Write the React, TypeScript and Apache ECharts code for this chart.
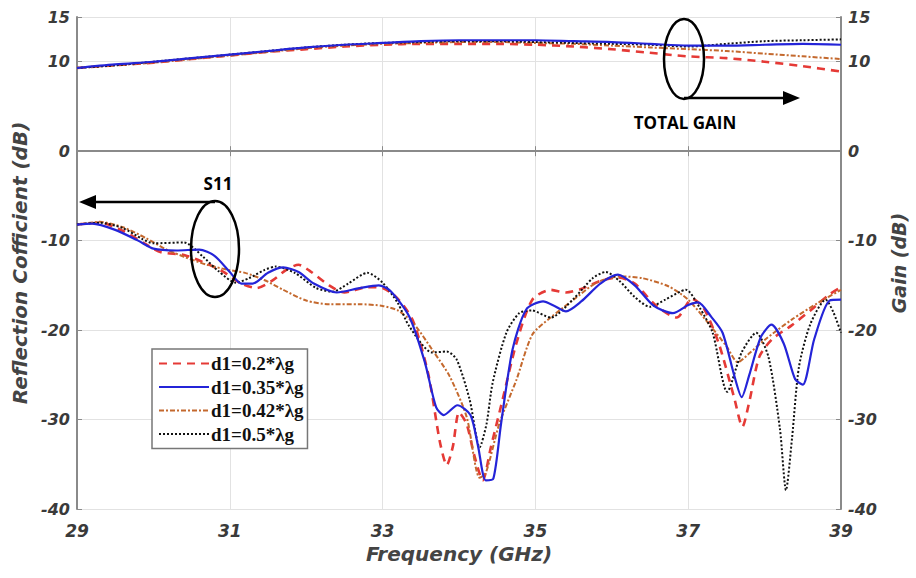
import React, { useEffect, useRef } from "react";
import * as echarts from "echarts";

const seriesNames = ["d1=0.2*λg", "d1=0.35*λg", "d1=0.42*λg", "d1=0.5*λg"];
const xTicks = [29, 31, 33, 35, 37, 39];
const yTicks = [-40, -30, -20, -10, 0, 10, 15];

// Total gain (dB) sampled every 0.5 GHz
const gainFreq = [29, 29.5, 30, 30.5, 31, 31.5, 32, 32.5, 33, 33.5, 34, 34.5, 35, 35.5, 36, 36.5, 37, 37.5, 38, 38.5, 39];
const gainD020 = [9.3, 9.6, 9.9, 10.3, 10.7, 11.1, 11.4, 11.7, 11.9, 12.0, 12.0, 12.0, 11.9, 11.7, 11.4, 11.0, 10.6, 10.4, 10.0, 9.5, 8.9];
const gainD035 = [9.3, 9.7, 10.0, 10.4, 10.8, 11.2, 11.6, 11.9, 12.1, 12.3, 12.4, 12.4, 12.4, 12.3, 12.2, 12.0, 11.8, 11.8, 11.9, 12.0, 11.9];
const gainD042 = [9.3, 9.6, 9.9, 10.3, 10.7, 11.1, 11.5, 11.8, 12.0, 12.1, 12.2, 12.2, 12.1, 12.0, 11.8, 11.6, 11.4, 11.2, 10.9, 10.6, 10.3];
const gainD050 = [9.3, 9.6, 10.0, 10.4, 10.8, 11.2, 11.6, 11.9, 12.1, 12.2, 12.3, 12.3, 12.2, 12.1, 12.0, 11.9, 11.7, 12.0, 12.3, 12.4, 12.5];

// S11 (dB): [frequency GHz, value dB]
const s11D020: [number, number][] = [
  [29, -8.2], [29.3, -8.0], [29.6, -8.9], [29.9, -10.4], [30.1, -11.3], [30.4, -11.6], [30.65, -12.4],
  [30.9, -13.4], [31.15, -14.8], [31.35, -15.3], [31.55, -14.5], [31.75, -13.2], [31.9, -12.7], [32.05, -13.4],
  [32.3, -15.0], [32.5, -15.8], [32.8, -15.2], [33.0, -15.3], [33.2, -16.5], [33.4, -19.0], [33.6, -25.0],
  [33.75, -32.5], [33.84, -35.1], [33.92, -33.0], [34.0, -29.2], [34.1, -30.5], [34.2, -34.0], [34.31, -36.8],
  [34.42, -33.0], [34.57, -27.8], [34.75, -21.5], [34.96, -16.6], [35.2, -15.5], [35.4, -15.8], [35.6, -15.4],
  [35.85, -14.5], [36.08, -14.1], [36.3, -14.8], [36.57, -17.2], [36.85, -18.6], [37.05, -16.5], [37.2, -17.5],
  [37.4, -21.5], [37.6, -27.5], [37.71, -30.8], [37.8, -28.0], [37.93, -23.0], [38.1, -21.0], [38.35, -19.5],
  [38.6, -17.8], [38.85, -16.0], [39, -15.2],
];
const s11D035: [number, number][] = [
  [29, -8.2], [29.2, -8.1], [29.5, -8.8], [29.8, -10.0], [30.0, -10.9], [30.3, -11.1], [30.6, -11.0],
  [30.8, -11.7], [31.0, -13.5], [31.15, -14.8], [31.3, -14.8], [31.5, -13.6], [31.7, -13.0], [31.9, -13.5],
  [32.1, -14.8], [32.4, -15.8], [32.7, -15.3], [32.95, -15.0], [33.1, -15.6], [33.35, -18.5], [33.55, -23.5],
  [33.7, -28.6], [33.8, -29.5], [33.98, -28.4], [34.15, -29.5], [34.25, -33.0], [34.35, -36.8], [34.45, -36.6],
  [34.55, -30.5], [34.7, -22.2], [34.88, -17.7], [35.1, -16.8], [35.25, -17.3], [35.4, -17.9], [35.6, -16.8],
  [35.85, -14.8], [36.08, -13.8], [36.3, -15.0], [36.55, -17.3], [36.8, -18.1], [37.0, -17.2], [37.13, -16.9],
  [37.3, -18.5], [37.45, -20.3], [37.6, -25.0], [37.7, -27.5], [37.8, -25.0], [37.95, -20.8], [38.09, -19.4],
  [38.25, -21.5], [38.4, -25.5], [38.5, -26.1], [38.65, -21.0], [38.85, -16.7], [39, -16.6],
];
const s11D042: [number, number][] = [
  [29, -8.2], [29.3, -7.9], [29.6, -8.5], [29.9, -9.7], [30.15, -10.9], [30.4, -11.8], [30.7, -12.7],
  [31.0, -13.3], [31.2, -13.6], [31.45, -14.4], [31.7, -15.5], [32.0, -16.7], [32.3, -17.1], [32.7, -17.1],
  [33.0, -17.3], [33.2, -17.8], [33.4, -19.2], [33.65, -22.2], [33.88, -25.2], [34.1, -29.7], [34.27, -36.5],
  [34.35, -36.0], [34.53, -30.4], [34.75, -25.6], [34.96, -20.5], [35.2, -18.6], [35.5, -16.6], [35.8, -14.7],
  [36.1, -14.0], [36.4, -14.2], [36.74, -15.1], [37.0, -16.6], [37.26, -19.2], [37.5, -21.8], [37.65, -23.6],
  [37.8, -22.6], [38.0, -21.1], [38.36, -18.8], [38.71, -16.9], [39, -15.5],
];
const s11D050: [number, number][] = [
  [29, -8.2], [29.3, -8.0], [29.6, -8.6], [29.85, -9.8], [30.0, -10.3], [30.4, -10.2], [30.65, -11.8],
  [30.85, -13.4], [31.08, -14.7], [31.25, -14.2], [31.45, -13.3], [31.6, -12.9], [31.85, -13.6], [32.13, -15.3],
  [32.35, -15.7], [32.55, -14.8], [32.8, -13.6], [33.0, -14.7], [33.2, -17.0], [33.35, -19.6], [33.65, -22.5],
  [33.84, -22.4], [33.97, -23.3], [34.14, -27.8], [34.27, -33.1], [34.36, -30.5], [34.44, -25.9], [34.62, -20.3],
  [34.79, -18.1], [34.95, -17.8], [35.2, -18.6], [35.5, -16.5], [35.75, -14.2], [35.92, -13.5], [36.1, -14.5],
  [36.3, -16.3], [36.5, -17.4], [36.7, -16.6], [36.97, -15.5], [37.15, -17.5], [37.32, -20.3], [37.51, -26.9],
  [37.7, -22.5], [37.89, -20.3], [38.05, -23.0], [38.2, -31.0], [38.28, -37.9], [38.36, -32.0], [38.45, -24.1],
  [38.6, -19.3], [38.8, -16.6], [38.9, -18.0], [39, -20.3],
];

const styles = [
  { color: "#e53a36", type: [8, 6] as any, width: 2.6 },
  { color: "#2424d8", type: "solid" as any, width: 2.2 },
  { color: "#c4692e", type: [5, 2, 2, 2] as any, width: 2 },
  { color: "#111111", type: [2, 2] as any, width: 2 },
];

export default function App() {
  const ref = useRef<HTMLDivElement>(null);
  useEffect(() => {
    if (!ref.current) return;
    const chart = echarts.init(ref.current, null, { renderer: "svg" });
    const s11 = [s11D020, s11D035, s11D042, s11D050];
    const gains = [gainD020, gainD035, gainD042, gainD050];
    const labelStyle = {
      fontFamily: "DejaVu Sans, Verdana, sans-serif",
      fontWeight: "bold" as const,
      fontStyle: "italic" as const,
      color: "#3a3a3a",
      fontSize: 16,
    };
    const series: any[] = [];
    s11.forEach((d, i) => {
      series.push({
        name: seriesNames[i],
        type: "line",
        data: d,
        xAxisIndex: 0,
        yAxisIndex: 0,
        symbol: "none",
        smooth: 0.25,
        lineStyle: { ...styles[i] },
        itemStyle: { color: styles[i].color },
        z: i === 1 ? 5 : 3,
      });
    });
    gains.forEach((g, i) => {
      series.push({
        name: seriesNames[i],
        type: "line",
        data: gainFreq.map((f, k) => [f, g[k]]),
        xAxisIndex: 0,
        yAxisIndex: 1,
        symbol: "none",
        smooth: 0.3,
        lineStyle: { ...styles[i] },
        itemStyle: { color: styles[i].color },
        z: i === 1 ? 5 : 3,
      });
    });
    const axisLine = { show: true, lineStyle: { color: "#8a8a8a", width: 2 } };
    const tickStyle = { show: true, inside: true, length: 5, lineStyle: { color: "#8a8a8a", width: 1 } };
    chart.setOption({
      animation: false,
      backgroundColor: "#ffffff",
      grid: { left: 77, right: 74, top: 17, bottom: 69, containLabel: false },
      legend: {
        show: true,
        data: seriesNames,
        orient: "vertical",
        left: 152,
        top: 349,
        itemWidth: 50,
        itemHeight: 14,
        itemGap: 4.5,
        padding: [5, 4, 5, 6],
        backgroundColor: "#ffffff",
        borderColor: "#777777",
        borderWidth: 1.5,
        borderRadius: 0,
        selectedMode: false,
        itemStyle: { opacity: 0 },
        textStyle: {
          fontFamily: "Liberation Serif, Times New Roman, serif",
          fontWeight: "bold",
          fontSize: 19,
          lineHeight: 14,
          color: "#111111",
          padding: [0, 0, 0, -3],
        },
      },
      xAxis: [
        {
          type: "value",
          min: 29,
          max: 39,
          interval: 2,
          name: "Frequency (GHz)",
          nameLocation: "middle",
          nameGap: 33,
          nameTextStyle: { ...labelStyle, fontSize: 20, color: "#444444" },
          axisLine,
          axisTick: tickStyle,
          axisLabel: { ...labelStyle, fontSize: 17, margin: 13, customValues: xTicks },
          splitLine: { show: true, lineStyle: { color: "#e2e2e2", width: 1 } },
        },
        {
          type: "value",
          position: "top",
          min: 29,
          max: 39,
          interval: 2,
          axisLine,
          axisTick: tickStyle,
          axisLabel: { show: false },
          splitLine: { show: false },
        },
      ],
      yAxis: [
        {
          type: "value",
          min: -40,
          max: 15,
          interval: 10,
          position: "left",
          name: "Reflection Cofficient (dB)",
          nameLocation: "middle",
          nameGap: 45,
          nameTextStyle: { ...labelStyle, fontSize: 20, color: "#444444" },
          axisLine,
          axisTick: { ...tickStyle, customValues: yTicks },
          axisLabel: { ...labelStyle, margin: 7, customValues: yTicks },
          splitLine: { show: true, lineStyle: { color: "#e2e2e2", width: 1 } },
        },
        {
          type: "value",
          min: -40,
          max: 15,
          interval: 10,
          position: "right",
          name: "Gain (dB)",
          nameLocation: "middle",
          nameGap: 48,
          nameTextStyle: { ...labelStyle, fontSize: 19, color: "#444444" },
          axisLine,
          axisTick: { ...tickStyle, customValues: yTicks },
          axisLabel: { ...labelStyle, margin: 7, customValues: yTicks },
          splitLine: { show: false },
        },
      ],
      series,
      graphic: [
        { type: "ellipse", shape: { cx: 215, cy: 249, rx: 24, ry: 48 }, style: { fill: "none", stroke: "#000", lineWidth: 2.5 }, z: 100 },
        { type: "line", shape: { x1: 215, y1: 202, x2: 94, y2: 202 }, style: { stroke: "#000", lineWidth: 2.5 }, z: 100 },
        { type: "polygon", shape: { points: [[79, 202], [96, 195], [96, 209]] }, style: { fill: "#000" }, z: 100 },
        {
          type: "text", x: 218, y: 183,
          style: { text: "S11", fill: "#000", font: "bold 17px 'Open Sans', 'Liberation Sans', sans-serif", align: "center", verticalAlign: "middle" },
          z: 100,
        },
        { type: "ellipse", shape: { cx: 684, cy: 59, rx: 20, ry: 40 }, style: { fill: "none", stroke: "#000", lineWidth: 2.5 }, z: 100 },
        { type: "line", shape: { x1: 684, y1: 98, x2: 785, y2: 98 }, style: { stroke: "#000", lineWidth: 2.5 }, z: 100 },
        { type: "polygon", shape: { points: [[800, 98], [783, 91], [783, 105]] }, style: { fill: "#000" }, z: 100 },
        {
          type: "text", x: 685, y: 122,
          style: { text: "TOTAL GAIN", fill: "#000", font: "bold 17px 'Open Sans', 'Liberation Sans', sans-serif", align: "center", verticalAlign: "middle" },
          z: 100,
        },
      ],
    });
    return () => chart.dispose();
  }, []);
  return <div ref={ref} style={{ width: 916, height: 578, position: "absolute", left: 0, top: 0 }} />;
}
